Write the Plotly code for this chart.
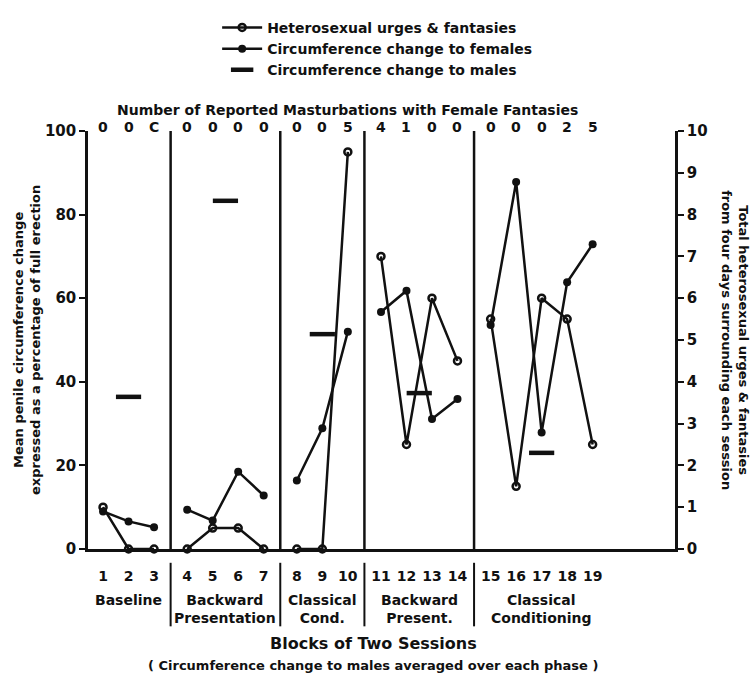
import plotly.graph_objects as go

# ---------------- data ----------------
blocks = list(range(1, 20))
phase_of_block = [0, 0, 0, 1, 1, 1, 1, 2, 2, 2, 3, 3, 3, 3, 4, 4, 4, 4, 4]
phase_names = ["Baseline", "Backward<br>Presentation", "Classical<br>Cond.",
               "Backward<br>Present.", "Classical<br>Conditioning"]
hetero_urges = [1, 0, 0, 0, 0.5, 0.5, 0, 0, 0, 9.5, 7, 2.5, 6, 4.5, 5.5, 1.5, 6, 5.5, 2.5]
circ_females = [9, 6.6, 5.2, 9.4, 6.8, 18.5, 12.8, 16.4, 28.9, 52, 56.7, 61.8, 31.1,
                35.9, 53.6, 87.8, 27.9, 63.8, 72.9]
circ_males = [36.4, 83.3, 51.4, 37.3, 23]
masturbations = ["0", "0", "C", "0", "0", "0", "0", "0", "0", "5",
                 "4", "1", "0", "0", "0", "0", "0", "2", "5"]
left_ticks = [0, 20, 40, 60, 80, 100]
right_ticks = list(range(0, 11))

# ---------------- layout helpers ----------------
GAP = 0.3
xpos = [b + GAP * p for b, p in zip(blocks, phase_of_block)]
n_phases = len(phase_names)
phase_x = []
for p in range(n_phases):
    xs = [x for x, q in zip(xpos, phase_of_block) if q == p]
    phase_x.append(sum(xs) / len(xs))
dividers = []
for i in range(1, len(xpos)):
    if phase_of_block[i] != phase_of_block[i - 1]:
        dividers.append((xpos[i] + xpos[i - 1]) / 2)


def segmented(vals):
    xs, ys = [], []
    for i, (x, v) in enumerate(zip(xpos, vals)):
        if i > 0 and phase_of_block[i] != phase_of_block[i - 1]:
            xs.append(None)
            ys.append(None)
        xs.append(x)
        ys.append(v)
    return xs, ys


FONT = "DejaVu Sans"
BLACK = "#111111"


def f(size, bold=True):
    return dict(size=size, family=FONT, color=BLACK, weight="bold" if bold else "normal")


fig = go.Figure()
hx, hy = segmented(hetero_urges)
fig.add_trace(go.Scatter(
    x=hx, y=hy, yaxis="y2", mode="lines+markers", name="Heterosexual urges & fantasies",
    line=dict(color=BLACK, width=2.5),
    marker=dict(symbol="circle-open", size=7, color=BLACK, line=dict(width=2.5)),
    cliponaxis=False))
fx, fy = segmented(circ_females)
fig.add_trace(go.Scatter(
    x=fx, y=fy, mode="lines+markers", name="Circumference change to females",
    line=dict(color=BLACK, width=2.5),
    marker=dict(symbol="circle", size=8, color=BLACK),
    cliponaxis=False))
fig.add_trace(go.Scatter(
    x=phase_x, y=circ_males, mode="markers", name="Circumference change to males",
    marker=dict(symbol="line-ew", size=18, color=BLACK, line=dict(width=4.5, color=BLACK)),
    cliponaxis=False))

shapes = []
for d in dividers:
    shapes.append(dict(type="line", xref="x", yref="y", x0=d, x1=d, y0=0, y1=100,
                       line=dict(color=BLACK, width=2.5)))
    shapes.append(dict(type="line", xref="x", yref="paper", x0=d, x1=d, y0=-0.033, y1=-0.185,
                       line=dict(color=BLACK, width=2)))

mid = (xpos[0] + xpos[-1]) / 2
annotations = []
for x, m in zip(xpos, masturbations):
    annotations.append(dict(x=x, y=1.033, xref="x", yref="paper", text=m, showarrow=False,
                            font=f(14)))
annotations.append(dict(x=mid, y=1.075, xref="x", yref="paper",
                        text="Number of Reported Masturbations with Female Fantasies",
                        showarrow=False, font=f(14)))
for x, name in zip(phase_x, phase_names):
    annotations.append(dict(x=x, y=-0.098, xref="x", yref="paper", yanchor="top", text=name,
                            showarrow=False, align="center", font=f(14)))
annotations.append(dict(x=mid + 1.0, y=-0.253, xref="x", yref="paper",
                        text="Blocks of Two Sessions", showarrow=False, font=f(16)))
annotations.append(dict(x=mid + 1.0, y=-0.302, xref="x", yref="paper",
                        text="( Circumference change to males averaged over each phase )",
                        showarrow=False, font=f(13)))
annotations.append(dict(x=-0.104, y=0.5, xref="paper", yref="paper", textangle=-90,
                        xanchor="center", yanchor="middle",
                        text="Mean penile circumference change<br>expressed as a percentage of full erection",
                        showarrow=False, font=f(13)))
annotations.append(dict(x=1.102, y=0.5, xref="paper", yref="paper", textangle=90,
                        xanchor="center", yanchor="middle",
                        text="Total heterosexual urges & fantasies<br>from four days surrounding each session",
                        showarrow=False, font=f(13)))

fig.update_layout(
    width=754, height=690, autosize=False,
    margin=dict(l=88, r=79, t=122, b=141),
    paper_bgcolor="white", plot_bgcolor="white",
    font=f(14),
    showlegend=True,
    legend=dict(x=0.22, y=1.285, xanchor="left", yanchor="top", bgcolor="rgba(0,0,0,0)",
                font=f(14), itemwidth=40, tracegroupgap=0),
    xaxis=dict(range=[0.41, 23.43], tickvals=xpos, ticktext=[str(b) for b in blocks],
               showline=True, linecolor=BLACK, linewidth=2.5, ticks="", showgrid=False,
               zeroline=False, ticklabelstandoff=12, tickfont=f(14)),
    yaxis=dict(range=[0, 100], tickvals=left_ticks, ticks="outside", ticklen=6, tickwidth=2,
               tickcolor=BLACK, showline=True, linecolor=BLACK, linewidth=2.5, showgrid=False,
               zeroline=False, tickfont=f(15)),
    yaxis2=dict(range=[0, 10], tickvals=right_ticks, overlaying="y", side="right",
                ticks="outside", ticklen=6, tickwidth=2, tickcolor=BLACK, showline=True,
                linecolor=BLACK, linewidth=2.5, showgrid=False, zeroline=False,
                tickfont=f(15)),
    shapes=shapes, annotations=annotations,
)

fig.write_html("out.html")
